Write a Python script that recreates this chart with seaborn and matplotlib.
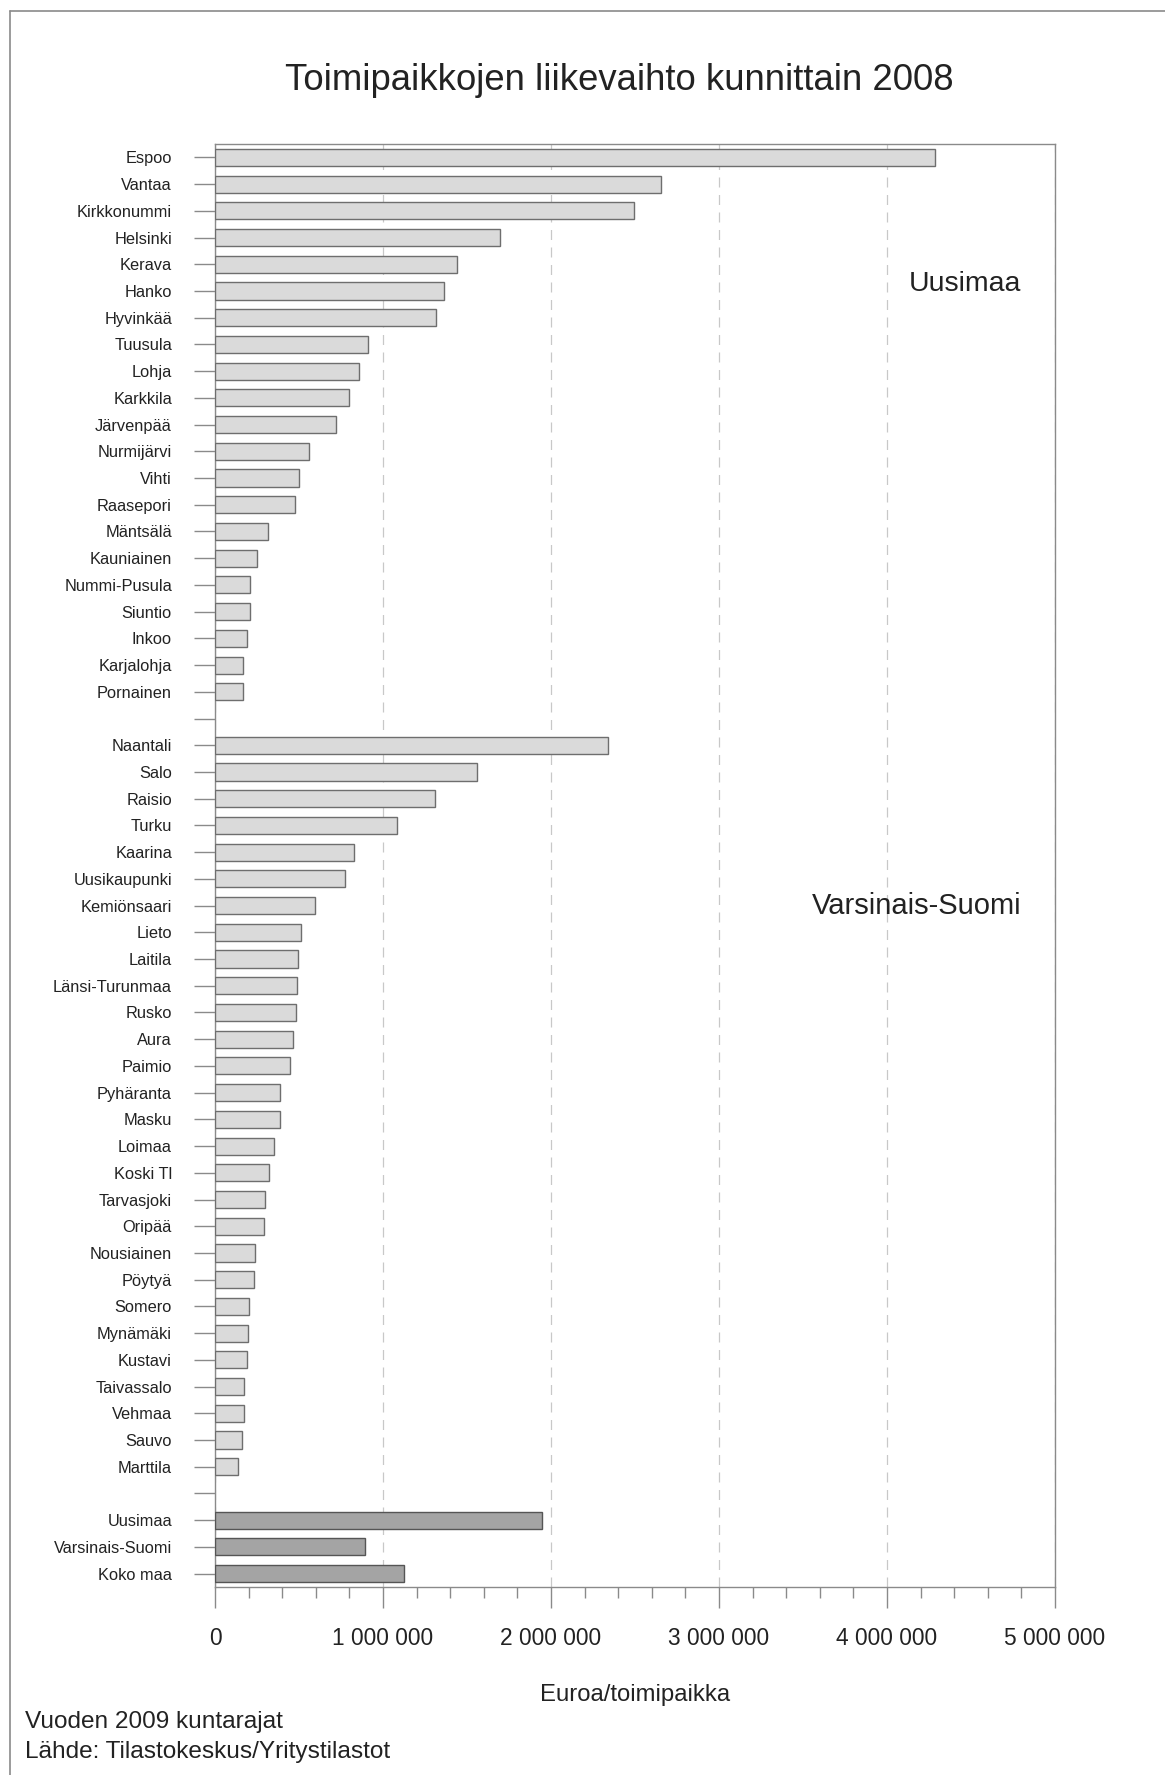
import numpy as np
import pandas as pd
import matplotlib
matplotlib.use("Agg")
import matplotlib.pyplot as plt
from matplotlib.ticker import MultipleLocator, FuncFormatter
import seaborn as sns

# Uusimaa
uusimaa_kunnat = ["Espoo", "Vantaa", "Kirkkonummi", "Helsinki", "Kerava", "Hanko",
                  "Hyvinkää", "Tuusula", "Lohja", "Karkkila", "Järvenpää", "Nurmijärvi",
                  "Vihti", "Raasepori", "Mäntsälä", "Kauniainen", "Nummi-Pusula",
                  "Siuntio", "Inkoo", "Karjalohja", "Pornainen"]
uusimaa_arvot = [4284000, 2652000, 2497000, 1694000, 1441000, 1366000,
                 1313000, 909000, 860000, 799000, 720000, 559000,
                 498000, 475000, 318000, 250000, 211000,
                 207000, 189000, 166000, 164000]

# Varsinais-Suomi
vs_kunnat = ["Naantali", "Salo", "Raisio", "Turku", "Kaarina", "Uusikaupunki",
             "Kemiönsaari", "Lieto", "Laitila", "Länsi-Turunmaa", "Rusko", "Aura",
             "Paimio", "Pyhäranta", "Masku", "Loimaa", "Koski Tl", "Tarvasjoki",
             "Oripää", "Nousiainen", "Pöytyä", "Somero", "Mynämäki", "Kustavi",
             "Taivassalo", "Vehmaa", "Sauvo", "Marttila"]
vs_arvot = [2337000, 1562000, 1309000, 1084000, 829000, 773000,
            595000, 513000, 494000, 491000, 481000, 467000,
            446000, 384000, 387000, 352000, 320000, 300000,
            291000, 241000, 234000, 200000, 198000, 191000,
            175000, 173000, 161000, 139000]

# maakunnat ja koko maa
alueet = ["Uusimaa", "Varsinais-Suomi", "Koko maa"]
alueet_arvot = [1947000, 894000, 1124000]

jarjestys = uusimaa_kunnat + [" "] + vs_kunnat + ["  "] + alueet

sns.set_style("white")
plt.rcParams['font.family'] = ['Liberation Sans', 'DejaVu Sans']
tekstivari = "#222222"
harmaa = "#8a8a8a"

kunnat_df = pd.DataFrame({"kunta": uusimaa_kunnat + vs_kunnat,
                          "arvo": uusimaa_arvot + vs_arvot})
alueet_df = pd.DataFrame({"kunta": alueet, "arvo": alueet_arvot})

W, H = 1165, 1775
fig = plt.figure(figsize=(W / 100, H / 100), dpi=100)
ax = fig.add_axes([215 / W, 1 - 1587 / H, (1055 - 215) / W, (1587 - 144) / H])

sns.barplot(data=kunnat_df, x="arvo", y="kunta", order=jarjestys, orient="h",
            color="#dadada", saturation=1, width=0.64, edgecolor="#6e6e6e",
            linewidth=1.0, ax=ax, zorder=3)
sns.barplot(data=alueet_df, x="arvo", y="kunta", order=jarjestys, orient="h",
            color="#a4a4a4", saturation=1, width=0.64, edgecolor="#555555",
            linewidth=1.0, ax=ax, zorder=3)

ax.set_xlim(0, 5000000)
ax.set_ylim(len(jarjestys) - 0.5, -0.5)

ax.xaxis.set_major_locator(MultipleLocator(1000000))
ax.xaxis.set_minor_locator(MultipleLocator(200000))
ax.xaxis.set_major_formatter(FuncFormatter(lambda v, p: f"{v:,.0f}".replace(",", " ")))
ax.grid(axis="x", which="major", color="#c8c8c8", linestyle=(0, (8, 6)), linewidth=0.9, zorder=0)
ax.set_axisbelow(True)

ax.tick_params(axis="y", length=15, width=1, color=harmaa, pad=16,
               labelsize=11.8, labelcolor=tekstivari, left=True)
ax.tick_params(axis="x", which="major", length=15, width=1, color=harmaa, pad=14,
               labelsize=16.4, labelcolor=tekstivari, bottom=True)
ax.tick_params(axis="x", which="minor", length=8, width=1, color=harmaa, bottom=True)

for s in ax.spines.values():
    s.set_color(harmaa)
    s.set_linewidth(1.0)

ax.set_ylabel("")
ax.set_xlabel("Euroa/toimipaikka", fontsize=17.2, color=tekstivari)
ax.xaxis.set_label_coords(0.5, -(1695 - 1587) / (1587 - 144))
ax.xaxis.label.set_va("center")

ax.text(4800000, 4.75, "Uusimaa", ha="right", va="center", fontsize=20.5, color=tekstivari)
ax.text(4800000, 28.0, "Varsinais-Suomi", ha="right", va="center", fontsize=21, color=tekstivari)

fig.text(619 / W, 1 - 81 / H, "Toimipaikkojen liikevaihto kunnittain 2008",
         ha="center", va="center", fontsize=26.3, color=tekstivari)
fig.text(25 / W, 1 - 1722 / H, "Vuoden 2009 kuntarajat", ha="left", va="center",
         fontsize=17.6, color=tekstivari)
fig.text(25 / W, 1 - 1752 / H, "Lähde: Tilastokeskus/Yritystilastot", ha="left", va="center",
         fontsize=17.6, color=tekstivari)

# kehys
fig.add_artist(plt.Line2D([10 / W, 1], [1 - 11 / H, 1 - 11 / H], transform=fig.transFigure,
                          color=harmaa, linewidth=1.2))
fig.add_artist(plt.Line2D([10 / W, 10 / W], [1 - 11 / H, 0], transform=fig.transFigure,
                          color=harmaa, linewidth=1.2))

fig.savefig("out.png", dpi=100, facecolor="white")
